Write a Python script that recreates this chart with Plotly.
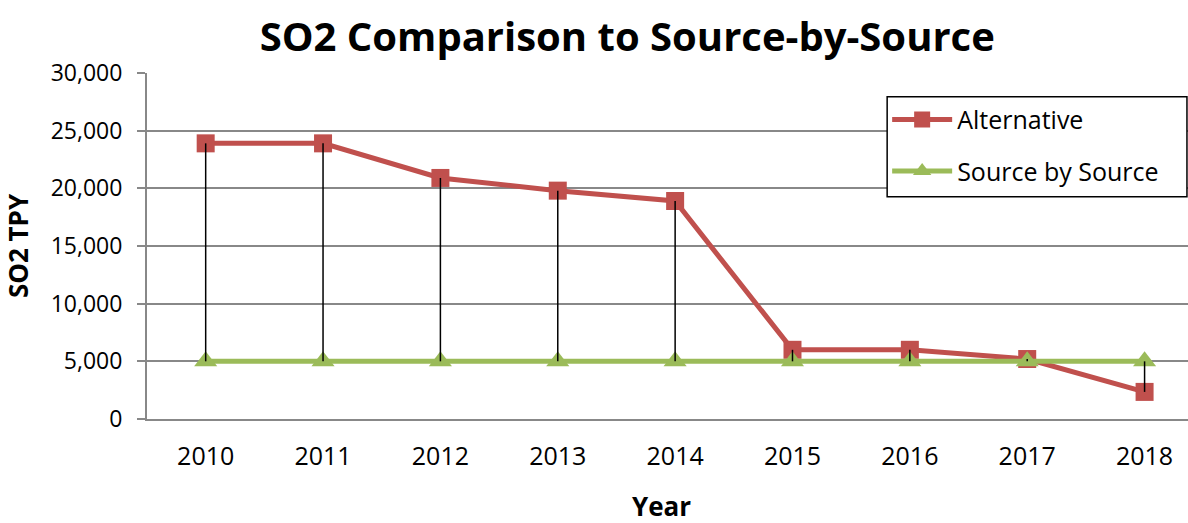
import plotly.graph_objects as go

years = ["2010", "2011", "2012", "2013", "2014", "2015", "2016", "2017", "2018"]
alternative = [23900, 23900, 20900, 19800, 18900, 6000, 6000, 5200, 2350]
source_by_source = [5000, 5000, 5000, 5000, 5000, 5000, 5000, 5000, 5000]
y_ticks = [0, 5000, 10000, 15000, 20000, 25000, 30000]

RED = "#C0504D"
GREEN = "#9BBB59"
GRID = "#888888"
FONT = "Open Sans"

fig = go.Figure()
fig.add_trace(go.Scatter(
    x=years, y=alternative, name="Alternative", mode="lines+markers",
    line=dict(color=RED, width=5),
    marker=dict(symbol="square", size=18, color=RED),
    legendgroup="a",
))
fig.add_trace(go.Scatter(
    x=years, y=source_by_source, name="Source by Source", mode="lines+markers",
    line=dict(color=GREEN, width=5),
    marker=dict(symbol="triangle-up", size=20, color=GREEN),
    legendgroup="b",
))

# high-low lines
hx, hy = [], []
for yr, a, s in zip(years, alternative, source_by_source):
    hx += [yr, yr, None]
    hy += [a, s, None]
fig.add_trace(go.Scatter(
    x=hx, y=hy, mode="lines", line=dict(color="black", width=1.5),
    showlegend=False, hoverinfo="skip",
))

# legend frame
fig.add_shape(type="rect", xref="paper", yref="paper",
              x0=0.711, x1=0.999, y0=0.642, y1=0.931,
              line=dict(color="black", width=1.5), fillcolor="white",
              layer="above")

fig.add_annotation(text="<b>Year</b>", xref="paper", yref="paper",
                   x=0.494, y=-0.252, xanchor="center", yanchor="middle",
                   showarrow=False, font=dict(size=26, family=FONT))

fig.update_layout(
    width=1188, height=523,
    margin=dict(l=147, r=0, t=73, b=104),
    paper_bgcolor="white", plot_bgcolor="white",
    font=dict(family=FONT, color="black", size=22),
    title=dict(text="<b>SO2 Comparison to Source-by-Source</b>",
               x=0.528, xanchor="center", y=0.93, yanchor="middle",
               font=dict(size=40, family=FONT)),
    legend=dict(x=0.711, y=0.931, xanchor="left", yanchor="top",
                borderwidth=0, bgcolor="rgba(0,0,0,0)",
                font=dict(size=25), tracegroupgap=16, itemwidth=60),
)
fig.update_xaxes(
    type="category", range=[-0.5, 8.37], automargin=False,
    showgrid=False, showline=True, linecolor=GRID, linewidth=2,
    ticks="", tickfont=dict(size=25), ticklabelstandoff=14,
)
fig.update_yaxes(
    range=[0, 30000], tickvals=y_ticks, tickformat=",d", automargin=False,
    showgrid=True, gridcolor=GRID, gridwidth=2,
    showline=True, linecolor=GRID, linewidth=2,
    ticks="outside", ticklen=8, tickcolor=GRID, tickwidth=2,
    tickfont=dict(size=23), ticklabelstandoff=10, zeroline=False,
    title=dict(text="<b>SO2 TPY</b>", font=dict(size=26), standoff=16),
)

fig.write_html("out.html")
